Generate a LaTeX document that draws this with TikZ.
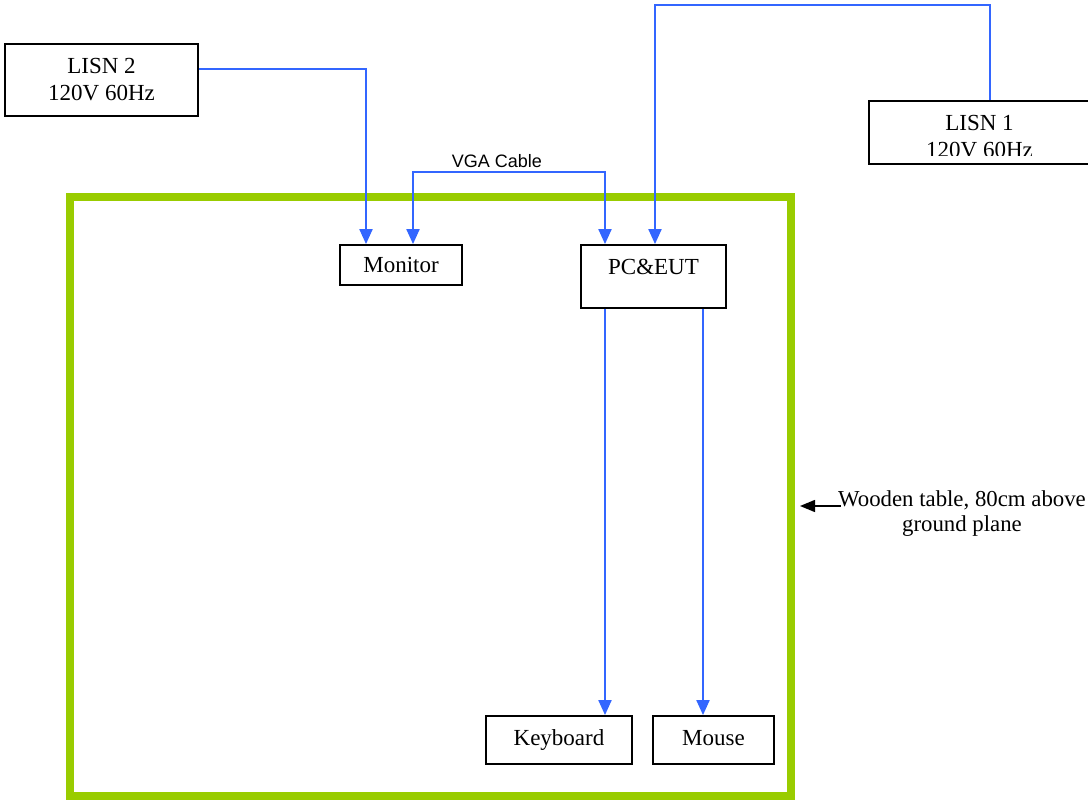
\documentclass[tikz,border=0pt]{standalone}
\usepackage{fontspec}
\setmainfont{Liberation Serif}
\setsansfont{Liberation Sans}
\usetikzlibrary{arrows.meta,calc}
\definecolor{cableblue}{HTML}{3366FF}
\definecolor{tablegreen}{HTML}{99CC00}
\tikzset{>={Triangle[width=6.5pt,length=7.5pt]}}

\begin{document}
\begin{tikzpicture}[x=0.5pt,y=-0.5pt,
    box/.style={draw,line width=0.9pt,inner sep=0pt,align=center,
      font=\fontsize{11.5}{13.5}\selectfont},
    cable/.style={draw=cableblue,line width=1pt}]
  \useasboundingbox (0,0) rectangle (1088,802);

  % table
  \node[draw=tablegreen,line width=4pt,inner sep=0pt,
    minimum width=360.5pt,minimum height=299.5pt] (tbl) at (430.5,496.5) {};

  % units
  \node[box,minimum width=96.5pt,minimum height=36pt] (lisn2) at (101.5,80) {LISN 2\\120V 60Hz};
  \node[box,minimum width=116pt,minimum height=31.5pt] (lisn1) at (985,132.5) {};
  \begin{scope}
    \clip (860,95) rectangle (1100,156);
    \node[box,draw=none,minimum width=110.5pt,minimum height=36pt] (lisn1txt) at (979.5,137) {LISN 1\\120V 60Hz};
  \end{scope}
  \node[box,minimum width=61pt,minimum height=20pt,text height=14pt,text depth=6pt] (mon) at (401,265) {Monitor};
  \node[box,minimum width=72.5pt,minimum height=31.5pt,text height=15pt,text depth=16.5pt] (pc) at (653.5,276.5) {PC\&EUT};
  \node[box,minimum width=73pt,minimum height=24pt,text height=14.5pt,text depth=9.5pt] (kbd) at (559,740) {Keyboard};
  \node[box,minimum width=60.5pt,minimum height=24pt,text height=14.5pt,text depth=9.5pt] (mouse) at (713.5,740) {Mouse};

  % cables
  \draw[cable,->] ($(lisn2.east)+(0,-11)$) -| ($(mon.north)+(-35,0)$);
  \draw[cable,->] ($(lisn1.north)+(5,0)$) coordinate (l1) -- (l1 |- 0,5) -| ($(pc.north)+(1.5,0)$);
  \draw[cable,<->] ($(mon.north)+(12,0)$) -- ++(0,-72) coordinate (v1) -| ($(pc.north)+(-48.5,0)$);
  \node[font=\sffamily\fontsize{9}{10}\selectfont,anchor=base] (vga) at (497,168) {VGA Cable};
  \draw[cable,->] ($(pc.south)+(-48.5,0)$) coordinate (k0) -- (k0 |- kbd.north);
  \draw[cable,->] ($(pc.south)+(49.5,0)$) coordinate (m0) -- (m0 |- mouse.north);

  % note
  \node[inner sep=0pt,align=center,font=\fontsize{11.4}{12.5}\selectfont] (wood) at (962,514) {Wooden table, 80cm above\\ground plane};
  \draw[line width=0.7pt,-{Triangle[width=6pt,length=7.5pt]}] ($(wood.west)+(3,-8)$) -- ($(tbl.east |- wood.west)+(5,-8)$);
\end{tikzpicture}
\end{document}
